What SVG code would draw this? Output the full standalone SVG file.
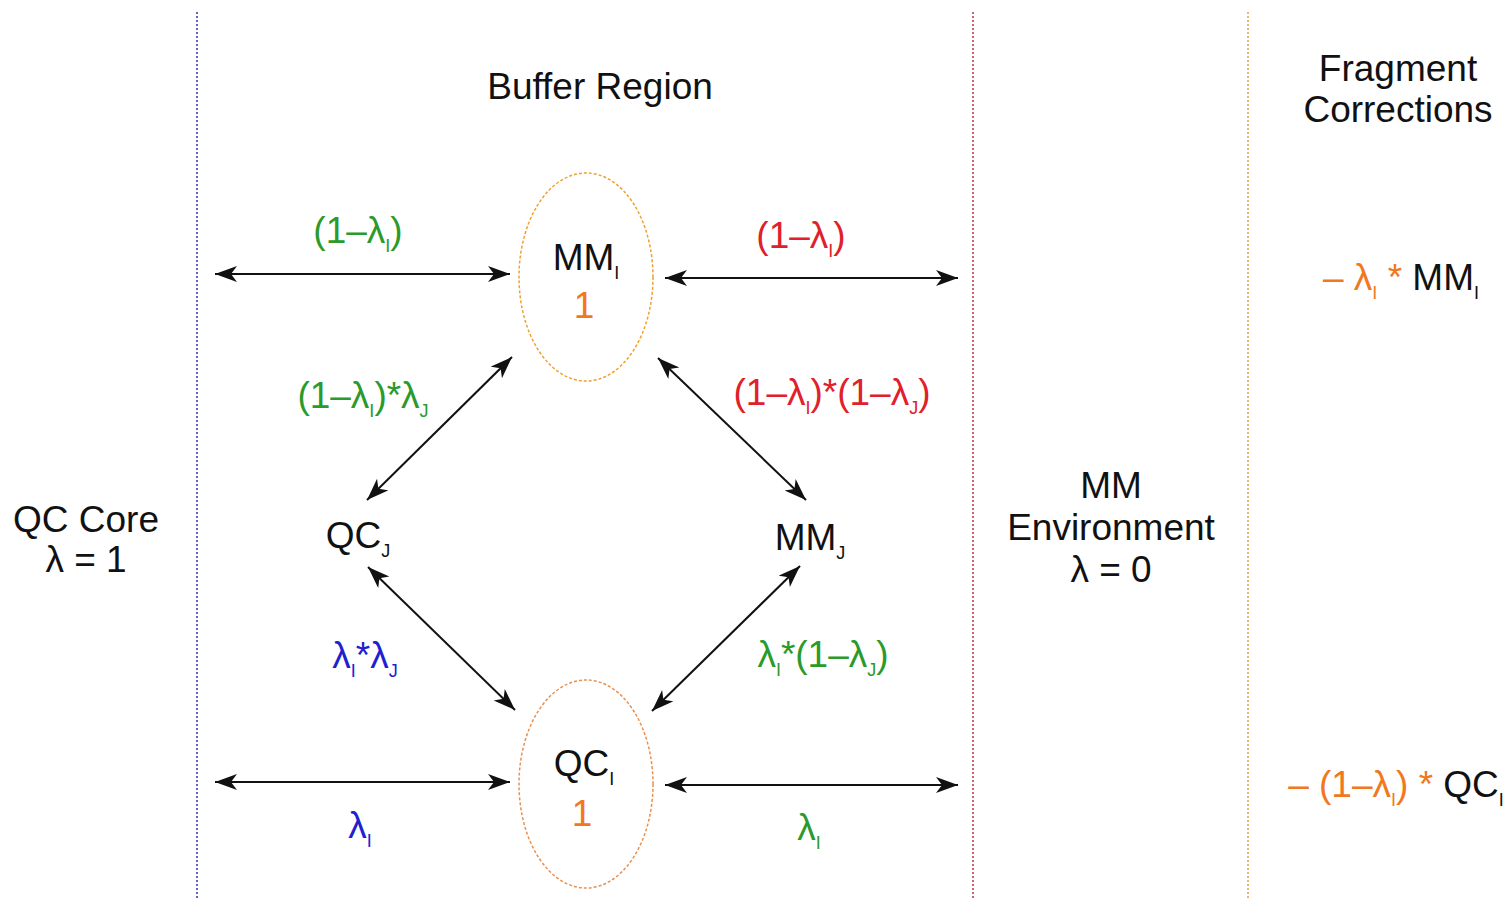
<svg xmlns="http://www.w3.org/2000/svg" width="1509" height="900" viewBox="0 0 1509 900">
<defs>
<marker id="ah" markerUnits="userSpaceOnUse" markerWidth="24" markerHeight="18" refX="22" refY="8" orient="auto-start-reverse" viewBox="0 0 24 18">
<path d="M0,0 L22,8 L0,16 L6,8 Z" fill="#111"/>
</marker>
</defs>
<style>
text{font-family:"Liberation Sans",Arial,sans-serif;font-size:37px;fill:#111;text-anchor:middle}
.lab{font-size:37px}
.g{fill:#2a9a2a}.r{fill:#e0202a}.b{fill:#2020d0}.o{fill:#f07820}.k{fill:#111}
.sub{font-size:18px}
.conn line{stroke:#111;stroke-width:2;marker-start:url(#ah);marker-end:url(#ah)}
.div{stroke-width:1.5;stroke-dasharray:2 2}
.ell{fill:none;stroke:#f0a030;stroke-width:1.5;stroke-dasharray:3 2}
</style>
<rect width="1509" height="900" fill="#fff"/>
<g id="dividers">
<line class="div" x1="197" y1="12" x2="197" y2="900" stroke="#3030a0"/>
<line class="div" x1="973" y1="12" x2="973" y2="900" stroke="#c03040"/>
<line class="div" x1="1248" y1="12" x2="1248" y2="900" stroke="#e0a040"/>
</g>
<g id="region-titles">
<text x="600" y="99">Buffer Region</text>
<text x="1398" y="81">Fragment</text>
<text x="1398" y="122">Corrections</text>
<text x="86" y="532">QC Core</text>
<text x="86" y="572">λ = 1</text>
<text x="1111" y="498">MM</text>
<text x="1111" y="540">Environment</text>
<text x="1111" y="582">λ = 0</text>
</g>
<g id="node-MMI">
<ellipse class="ell" cx="586" cy="277" rx="67" ry="104"/>
<text x="586" y="270">MM<tspan class="sub" dy="9">I</tspan></text>
<text class="o" x="584" y="318">1</text>
</g>
<g id="node-QCI">
<ellipse class="ell" cx="586" cy="784" rx="67" ry="104" style="stroke:#e89050"/>
<text x="584" y="776">QC<tspan class="sub" dy="9">I</tspan></text>
<text class="o" x="582" y="826">1</text>
</g>
<g id="node-QCJ">
<text x="358" y="548">QC<tspan class="sub" dy="9">J</tspan></text>
</g>
<g id="node-MMJ">
<text x="810" y="550">MM<tspan class="sub" dy="9">J</tspan></text>
</g>
<g class="conn" id="connectors">
<line x1="215" y1="274" x2="510" y2="274"/>
<line x1="665" y1="278" x2="958" y2="278"/>
<line x1="215" y1="782" x2="510" y2="782"/>
<line x1="665" y1="785" x2="958" y2="785"/>
<line x1="512" y1="357" x2="367" y2="500"/>
<line x1="658" y1="358" x2="806" y2="500"/>
<line x1="368" y1="567" x2="515" y2="710"/>
<line x1="800" y1="566" x2="652" y2="711"/>
</g>
<g id="labels">
<text class="lab g" x="358" y="243">(1–λ<tspan class="sub" dy="9">I</tspan><tspan dy="-9">)</tspan></text>
<text class="lab r" x="801" y="248">(1–λ<tspan class="sub" dy="9">I</tspan><tspan dy="-9">)</tspan></text>
<text class="lab g" x="363" y="408">(1–λ<tspan class="sub" dy="9">I</tspan><tspan dy="-9">)*λ</tspan><tspan class="sub" dy="9">J</tspan></text>
<text class="lab r" x="832" y="405">(1–λ<tspan class="sub" dy="9">I</tspan><tspan dy="-9">)*(1–λ</tspan><tspan class="sub" dy="9">J</tspan><tspan dy="-9">)</tspan></text>
<text class="lab b" x="365" y="668">λ<tspan class="sub" dy="9">I</tspan><tspan dy="-9">*λ</tspan><tspan class="sub" dy="9">J</tspan></text>
<text class="lab g" x="823" y="667">λ<tspan class="sub" dy="9">I</tspan><tspan dy="-9">*(1–λ</tspan><tspan class="sub" dy="9">J</tspan><tspan dy="-9">)</tspan></text>
<text class="lab b" x="360" y="838">λ<tspan class="sub" dy="9">I</tspan></text>
<text class="lab g" x="809" y="840">λ<tspan class="sub" dy="9">I</tspan></text>
</g>
<g id="corrections">
<text class="lab" x="1401" y="290"><tspan class="o">– λ</tspan><tspan class="sub o" dy="9">I</tspan><tspan class="o" dy="-9"> * </tspan><tspan class="k">MM</tspan><tspan class="sub k" dy="9">I</tspan></text>
<text class="lab" x="1396" y="797"><tspan class="o">– (1–λ</tspan><tspan class="sub o" dy="9">I</tspan><tspan class="o" dy="-9">) * </tspan><tspan class="k">QC</tspan><tspan class="sub k" dy="9">I</tspan></text>
</g>
</svg>
